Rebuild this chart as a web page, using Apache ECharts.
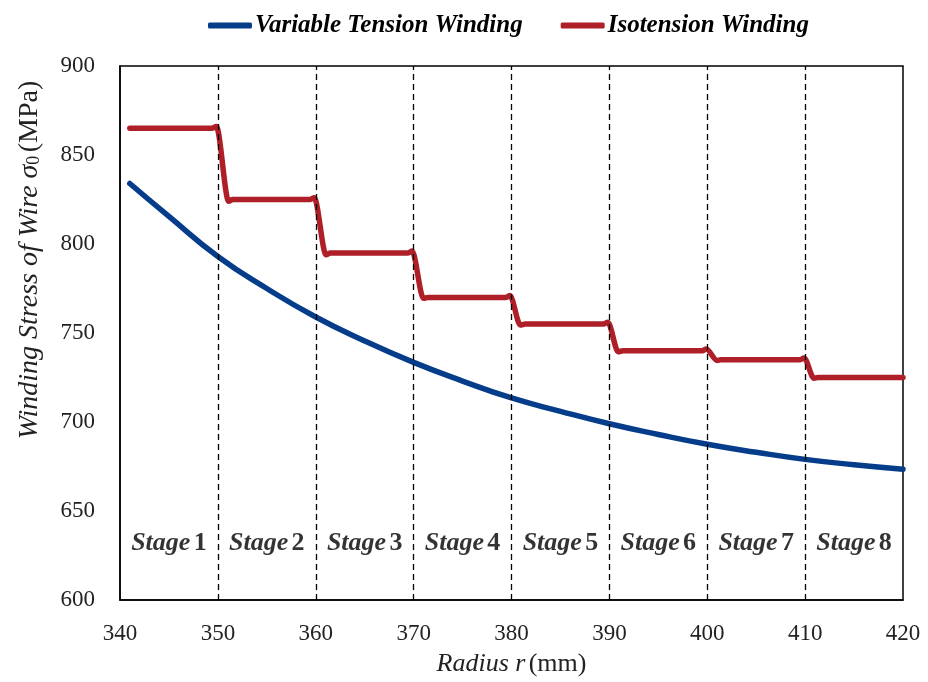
<!DOCTYPE html>
<html>
<head>
<meta charset="utf-8">
<script src="https://cdn.jsdelivr.net/npm/echarts@6/dist/echarts.min.js"></script>
<style>
html,body{margin:0;padding:0;background:#fff;}
#main{width:928px;height:682px;}
</style>
</head>
<body>
<div id="main"></div>
<script>
// ---- data ----
const xTicks = [340, 350, 360, 370, 380, 390, 400, 410, 420];
const yTicks = [600, 650, 700, 750, 800, 850, 900];

const blueName = 'Variable Tension Winding';
const blueR = [341, 345, 350, 355, 360, 365, 370, 375, 380, 385, 390, 395, 400, 405, 410, 415, 420];
const blueS = [834, 815.5, 793, 775, 759, 745.5, 733.5, 723, 713.5, 706, 699, 693, 687.5, 683, 679, 676, 673.5];

const redName = 'Isotension Winding';
const redR = [341, 349.4, 349.85, 351.1, 351.5,
              359.4, 359.85, 361.05, 361.5,
              369.4, 369.85, 371.0, 371.5,
              379.4, 379.85, 380.9, 381.4,
              389.4, 389.85, 390.9, 391.4,
              399.5, 399.9, 401.0, 401.4,
              409.5, 409.9, 410.9, 411.3, 420];
const redS = [865, 865, 866, 824, 825,
              825, 826, 794, 795,
              795, 796, 769.5, 770,
              770, 771, 754.5, 755,
              755, 756, 739.5, 740,
              740, 741, 734.6, 735,
              735, 736, 724.6, 725, 725];

const stageBounds = [350, 360, 370, 380, 390, 400, 410];
const stageCenters = [345, 355, 365, 375, 385, 395, 405, 415];
const stageNums = ['1', '2', '3', '4', '5', '6', '7', '8'];
const stageLabelY = 632;

// ---- build ----
const zip = (a, b) => a.map((v, i) => [v, b[i]]);
const FONT = '"Liberation Serif", "Times New Roman", serif';

const chart = echarts.init(document.getElementById('main'), null, {renderer: 'canvas'});
chart.setOption({
  animation: false,
  backgroundColor: '#ffffff',
  grid: {left: 120, right: 25, top: 66, bottom: 75, show: true, borderColor: '#000', borderWidth: 1.5, backgroundColor: 'transparent'},
  legend: {
    data: [blueName, redName],
    top: 8,
    left: 203,
    icon: 'roundRect',
    itemWidth: 44,
    itemHeight: 6,
    itemGap: 38,
    textStyle: {fontFamily: FONT, fontSize: 25, fontStyle: 'italic', fontWeight: 'bold', color: '#000', padding: [0, 0, 0, -2]}
  },
  xAxis: {
    type: 'value', min: 340, max: 420, interval: 10,
    axisLine: {show: true, lineStyle: {color: '#000', width: 1.5}},
    axisTick: {show: false},
    splitLine: {show: false},
    axisLabel: {fontFamily: FONT, fontSize: 23, color: '#222', margin: 22},
    name: '{i|Radius r} {n|(mm)}',
    nameLocation: 'middle',
    nameGap: 51,
    nameTextStyle: {
      rich: {
        i: {fontFamily: FONT, fontSize: 26, fontStyle: 'italic', color: '#222'},
        n: {fontFamily: FONT, fontSize: 26, color: '#222'}
      }
    }
  },
  yAxis: {
    type: 'value', min: 600, max: 900, interval: 50,
    axisLine: {show: true, lineStyle: {color: '#000', width: 1.5}},
    axisTick: {show: false},
    splitLine: {show: false},
    axisLabel: {fontFamily: FONT, fontSize: 23, color: '#222', margin: 25}
  },
  graphic: [{
    type: 'text',
    x: 30, y: 260,
    rotation: Math.PI / 2,
    style: {
      text: '{i|Winding Stress of Wire σ}{s|0} {n|(MPa)}',
      align: 'center', verticalAlign: 'middle',
      rich: {
        i: {fontFamily: FONT, fontSize: 28, fontStyle: 'italic', fill: '#222'},
        s: {fontFamily: FONT, fontSize: 18, fill: '#222', padding: [9, 0, 0, 0]},
        n: {fontFamily: FONT, fontSize: 28, fill: '#222'}
      }
    }
  }],
  series: [
    {
      name: blueName, type: 'line', data: zip(blueR, blueS),
      smooth: true, symbol: 'none', showSymbol: false,
      lineStyle: {color: '#053d8a', width: 5.5, cap: 'round'},
      itemStyle: {color: '#053d8a'},
      z: 3
    },
    {
      name: redName, type: 'line', data: zip(redR, redS),
      smooth: 0.3, smoothMonotone: 'x', symbol: 'none', showSymbol: false,
      lineStyle: {color: '#ae1f28', width: 5.5, cap: 'round', join: 'round'},
      itemStyle: {color: '#ae1f28'},
      z: 3,
      markLine: {
        silent: true, symbol: 'none', label: {show: false},
        lineStyle: {color: '#000', type: [6, 4], width: 1.3},
        data: stageBounds.map(v => ({xAxis: v}))
      }
    },
    {
      name: 'stages', type: 'scatter', symbolSize: 0, silent: true,
      data: stageCenters.map((x, i) => [x, stageLabelY, stageNums[i]]),
      label: {
        show: true, position: 'inside',
        formatter: p => '{s|Stage} {n|' + p.data[2] + '}',
        rich: {
          s: {fontFamily: FONT, fontSize: 26, fontStyle: 'italic', fontWeight: 'bold', color: '#000'},
          n: {fontFamily: FONT, fontSize: 26, fontWeight: 'bold', color: '#000'}
        }
      }
    }
  ]
});
</script>
</body>
</html>
